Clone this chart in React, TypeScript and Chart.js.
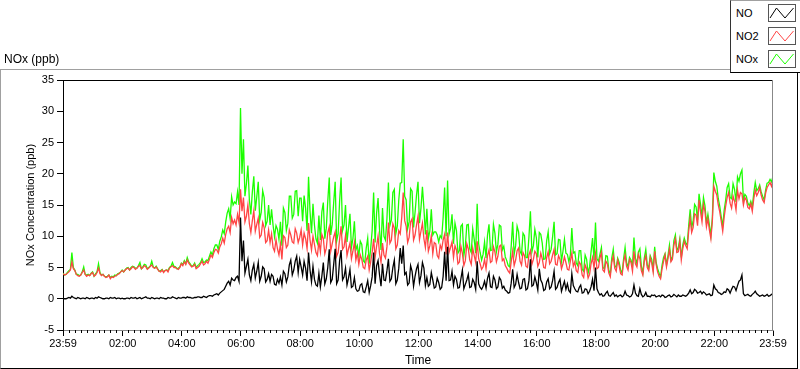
import React, { useEffect, useRef } from 'react';
import { Chart, registerables } from 'chart.js';

Chart.register(...registerables);

// Sampling: one value every 3 minutes, starting at 23:59 (-1 min) of the previous day
const START_MIN = -1;
const STEP_MIN = 3;

const NO: number[] = [
  0.1,0.0, 0.0,0.1, 0.2,0.1, 0.4,0.2, 0.1,0.0, 0.2,0.1, 0.0,0.1, 0.1,0.0, 0.2,0.1, 0.0,0.1,
  0.1,0.0, 0.2,0.1, 0.3,0.2, 0.1,0.0, 0.0,0.1, 0.1,0.0, 0.2,0.1, 0.1,0.2, 0.0,0.1, 0.1,0.0,
  0.1,0.0, 0.0,0.1, 0.1,0.0, 0.2,0.1, 0.1,0.2, 0.0,0.1, 0.2,0.0, 0.1,0.2, 0.3,0.1, 0.1,0.0,
  0.2,0.1, 0.0,0.1, 0.1,0.0, 0.2,0.1, 0.1,0.0, 0.0,0.2, 0.1,0.1, 0.3,0.2, 0.1,0.0, 0.2,0.1,
  0.1,0.2, 0.2,0.1, 0.3,0.2, 0.2,0.1, 0.1,0.2, 0.2,0.3, 0.3,0.2, 0.2,0.4, 0.3,0.2, 0.4,0.5,
  0.5,0.4, 0.6,0.7, 0.8,0.6, 0.9,1.1, 1.3,1.5, 2.0,2.5, 2.8,2.2, 3.3,3.0, 2.9,3.4, 3.6,2.8,
  13.0,6.0, 9.3,4.1, 5.2,6.3, 3.8,2.9, 4.6,5.5, 3.3,4.4, 5.8,2.8, 3.6,5.1, 4.8,2.7, 3.1,4.0,
  2.8,3.9, 3.6,2.3, 2.2,3.1, 2.5,3.5, 2.2,4.4, 4.0,2.7, 3.5,5.4, 6.2,3.8, 4.6,6.0, 6.8,4.2,
  6.3,5.1, 3.8,6.0, 4.9,2.9, 7.4,4.6, 2.7,5.2, 3.1,2.2, 2.0,4.1, 1.9,3.6, 5.8,2.4, 3.2,5.0,
  7.9,2.6, 3.1,5.5, 8.0,2.4, 3.0,6.1, 7.8,3.0, 3.5,4.9, 2.2,3.3, 4.7,1.8, 2.0,3.4, 1.6,1.2,
  1.3,2.2, 2.4,1.1, 1.0,1.9, 2.9,1.0, 2.1,3.5, 7.4,2.4, 5.3,6.1, 3.8,2.0, 5.6,3.0, 2.9,4.5,
  6.4,2.8, 3.2,5.0, 6.2,2.4, 3.0,4.9, 8.1,5.6, 8.5,3.9, 4.2,2.2, 2.5,5.3, 4.4,2.0, 3.6,4.8,
  5.5,2.6, 3.7,5.8, 4.9,2.1, 3.4,2.0, 2.3,4.2, 3.0,1.7, 1.9,3.3, 2.6,1.5, 1.8,3.6, 7.5,2.9,
  8.3,2.9, 3.0,4.4, 2.2,3.6, 3.1,1.7, 1.8,3.2, 4.6,1.6, 2.3,3.0, 3.9,1.8, 1.9,3.1, 2.6,1.5,
  6.0,2.4, 1.8,1.5, 2.0,2.8, 1.7,3.3, 4.1,1.9, 1.8,3.6, 3.0,1.6, 1.9,3.4, 3.0,1.7, 2.0,1.4,
  1.2,0.9, 1.0,2.5, 4.7,1.8, 2.3,3.9, 2.6,1.6, 1.7,3.1, 3.2,1.4, 1.6,2.9, 6.3,2.0, 2.2,3.5,
  2.6,1.4, 4.8,3.0, 2.5,1.3, 1.5,2.7, 3.2,1.6, 1.9,2.9, 4.4,1.5, 1.8,2.6, 3.1,1.2, 2.0,2.8,
  1.5,2.4, 1.3,1.0, 4.0,2.1, 1.6,1.2, 1.1,1.8, 2.2,0.9, 1.0,1.6, 1.5,0.8, 1.2,1.9, 3.1,1.3,
  5.0,1.6, 1.0,0.6, 0.8,0.4, 0.5,0.9, 1.2,0.5, 0.4,0.7, 1.0,0.4, 0.6,0.3, 0.5,0.6, 0.3,0.5,
  1.2,0.6, 0.5,0.3, 0.4,0.8, 2.2,0.9, 0.5,0.4, 1.6,0.7, 0.3,0.5, 1.0,0.4, 0.4,0.3, 0.6,0.5,
  0.6,0.3, 0.4,0.5, 0.3,0.6, 0.5,0.2, 0.3,0.5, 0.6,0.3, 0.4,0.7, 0.5,0.3, 0.6,0.4, 0.4,0.6,
  0.5,0.4, 0.6,0.9, 1.4,0.8, 1.0,1.5, 1.3,0.9, 1.0,1.2, 0.8,1.1, 0.9,0.6, 0.7,0.8, 0.5,0.6,
  2.2,1.6, 1.4,1.0, 0.9,0.7, 0.8,1.1, 1.0,1.6, 1.4,0.9, 1.5,2.0, 1.9,1.3, 2.1,2.8, 3.0,3.8,
  0.8,0.5, 0.6,0.7, 0.5,0.4, 0.7,0.9, 1.2,0.8, 0.6,0.4, 0.5,0.6, 0.4,0.5, 0.7,0.4, 0.5,0.7, 0.6,
];

const NO2: number[] = [
  4.0,3.8, 3.9,4.1, 4.3,4.6, 5.9,4.8, 4.5,3.9, 3.7,3.6, 3.8,4.2, 4.6,3.9, 3.6,3.8, 3.7,4.0,
  4.2,3.6, 3.8,4.2, 4.9,4.0, 3.7,3.9, 3.6,3.4, 3.5,3.8, 3.2,3.5, 3.4,3.6, 3.7,3.9, 4.0,4.3,
  4.5,4.3, 4.6,4.8, 4.9,4.6, 4.8,5.1, 5.0,4.7, 4.9,5.2, 5.3,4.8, 5.0,5.3, 5.1,4.7, 4.9,5.2,
  5.4,5.0, 4.9,5.1, 4.7,4.4, 4.3,4.6, 4.2,4.5, 4.6,4.3, 4.9,5.1, 5.3,5.0, 5.0,4.8, 4.7,5.0,
  5.6,5.3, 5.9,5.5, 6.2,5.7, 5.4,5.1, 5.2,5.5, 4.8,5.0, 5.2,5.6, 6.0,5.4, 5.6,6.0, 5.7,6.3,
  7.0,6.6, 7.4,7.9, 7.8,7.3, 8.3,8.8, 9.7,8.9, 10.3,11.2, 11.6,10.6, 13.0,12.0, 12.6,11.8, 13.5,12.2,
  17.5,14.0, 16.2,12.3, 13.2,15.0, 12.0,10.6, 12.5,14.1, 10.8,11.9, 12.9,9.8, 10.2,12.2, 11.4,9.0, 9.3,11.0,
  9.0,10.4, 8.2,7.6, 9.5,8.0, 7.0,8.8, 6.3,10.1, 9.8,8.2, 8.6,11.0, 10.2,9.1, 8.9,11.2, 10.5,9.0,
  9.8,11.0, 8.6,10.5, 9.6,8.0, 12.1,9.4, 7.8,10.0, 8.7,7.4, 6.9,9.2, 7.5,10.3, 9.6,7.2, 8.1,10.6,
  11.5,7.6, 8.8,9.9, 10.7,6.8, 7.4,9.5, 11.6,7.9, 8.3,10.1, 6.9,8.0, 8.9,6.4, 7.6,9.0, 6.2,7.3,
  5.5,7.0, 6.3,5.0, 4.8,6.2, 6.8,4.6, 5.9,7.4, 9.6,6.6, 8.4,10.0, 7.2,5.8, 8.9,7.0, 6.5,8.3,
  12.2,8.9, 9.4,12.0, 11.3,8.0, 8.6,10.9, 10.4,13.0, 17.0,12.5, 11.6,9.0, 9.8,12.3, 12.8,9.4, 10.2,11.8,
  13.2,9.5, 10.8,12.1, 9.6,8.2, 11.0,7.6, 8.5,10.1, 7.2,9.0, 8.8,6.9, 6.5,8.6, 7.9,9.4, 10.3,7.1,
  10.6,7.4, 8.2,9.1, 6.6,8.5, 7.8,5.6, 5.9,8.4, 7.3,5.3, 6.1,8.8, 8.0,6.2, 5.5,8.1, 6.9,5.8,
  9.2,6.4, 5.6,4.7, 5.1,6.3, 4.8,6.9, 7.8,5.8, 6.0,8.3, 7.5,5.9, 6.8,8.4, 8.6,6.1, 6.4,5.3,
  4.9,4.4, 4.1,5.9, 7.6,5.3, 6.2,7.7, 8.1,6.0, 5.4,7.4, 6.9,5.2, 5.0,7.0, 7.7,5.5, 6.3,7.6,
  7.2,5.2, 5.8,7.3, 6.4,5.0, 4.9,6.6, 7.5,5.6, 6.0,7.0, 7.9,5.5, 5.4,6.9, 6.3,4.8, 5.6,6.7,
  5.8,4.7, 4.6,6.0, 7.3,5.2, 5.9,4.5, 4.2,5.9, 5.5,3.8, 3.4,5.4, 4.8,3.3, 3.9,5.6, 6.6,4.9,
  7.2,4.8, 5.0,6.5, 7.4,4.6, 4.3,6.0, 5.6,4.1, 3.5,5.8, 6.9,4.9, 4.4,6.2, 5.3,4.0, 3.8,5.9,
  7.0,5.2, 4.6,6.3, 5.8,4.4, 7.6,5.6, 5.1,7.1, 6.4,4.5, 3.8,6.0, 6.9,5.0, 4.5,6.6, 5.7,4.2,
  7.6,5.5, 4.3,3.6, 3.2,4.8, 6.0,7.0, 5.1,6.4, 7.9,5.9, 6.3,8.6, 9.6,7.4, 7.5,9.2, 6.2,8.0,
  9.2,8.5, 8.0,10.8, 12.9,10.6, 11.4,13.6, 13.4,11.7, 15.8,13.9, 12.3,15.1, 14.0,11.5, 12.8,11.0, 9.6,12.4,
  18.0,17.2, 16.6,15.0, 13.9,12.4, 10.8,13.1, 14.8,16.2, 17.0,15.3, 14.5,16.4, 15.6,14.2, 17.4,16.0, 17.0,16.8,
  15.0,16.2, 15.8,14.6, 14.4,15.2, 14.0,16.0, 17.4,16.5, 17.0,17.8, 16.6,15.8, 15.4,16.9, 17.8,18.2, 18.6,18.0, 19.0,
];

const NOX: number[] = [
  4.1,3.8, 3.9,4.2, 4.5,4.7, 7.4,5.0, 4.6,3.9, 3.9,3.7, 3.8,4.3, 5.1,3.9, 3.8,3.9, 3.7,4.1,
  4.3,3.6, 4.0,4.3, 5.6,4.2, 3.8,3.9, 3.6,3.5, 3.6,3.8, 3.4,3.6, 3.5,3.8, 3.7,4.0, 4.1,4.3,
  4.6,4.3, 4.6,4.9, 5.0,4.6, 5.0,5.2, 5.1,4.9, 4.9,5.3, 5.8,4.8, 5.1,5.5, 5.4,4.8, 5.0,5.2,
  6.0,5.1, 4.9,5.2, 4.8,4.4, 4.5,4.7, 4.3,4.5, 4.6,4.5, 5.0,5.2, 5.8,5.2, 5.1,4.8, 4.9,5.1,
  5.7,5.5, 6.1,5.6, 6.6,5.9, 5.6,5.2, 5.3,5.7, 5.0,5.3, 5.5,5.8, 6.4,5.8, 5.9,6.2, 6.1,6.8,
  7.5,7.0, 8.0,8.6, 8.6,7.9, 9.2,9.9, 11.0,10.4, 12.3,13.7, 14.4,12.8, 16.3,15.0, 15.5,15.2, 17.1,15.0,
  30.5,20.0, 25.5,16.4, 18.4,21.3, 15.8,13.5, 17.1,19.6, 14.1,16.3, 18.7,12.6, 13.8,17.3, 16.2,11.7, 12.4,15.0,
  11.8,14.3, 11.8,9.9, 11.7,11.1, 9.5,12.3, 8.5,14.5, 13.8,10.9, 12.1,16.4, 16.4,12.9, 13.5,17.2, 17.3,13.2,
  16.1,16.1, 12.4,16.5, 14.5,10.9, 19.5,14.0, 10.5,15.2, 11.8,9.6, 8.9,13.3, 9.4,13.9, 15.4,9.6, 11.3,15.6,
  19.4,10.2, 11.9,15.4, 18.7,9.2, 10.4,15.6, 19.4,10.9, 11.8,15.0, 9.1,11.3, 13.6,8.2, 9.6,12.4, 7.8,8.5,
  6.8,9.2, 8.7,6.1, 5.8,8.1, 9.7,5.6, 8.0,10.9, 17.0,9.0, 13.7,16.1, 11.0,7.8, 14.5,10.0, 9.4,12.8,
  18.6,11.7, 12.6,17.0, 17.5,10.4, 11.6,15.8, 18.5,18.6, 25.5,16.4, 15.8,11.2, 12.3,17.6, 17.2,11.4, 13.8,16.6,
  18.7,12.1, 14.5,17.9, 14.5,10.3, 14.4,9.6, 10.8,14.3, 10.2,10.7, 10.7,10.2, 9.1,10.1, 9.7,13.0, 17.8,10.0,
  18.9,10.3, 11.2,13.5, 8.8,12.1, 10.9,7.3, 7.7,11.6, 11.9,6.9, 8.4,11.8, 11.9,8.0, 7.4,11.2, 9.5,7.3,
  15.2,8.8, 7.4,6.2, 7.1,9.1, 6.5,10.2, 11.9,7.7, 7.8,11.9, 10.5,7.5, 8.7,11.8, 11.6,7.8, 8.4,6.7,
  6.1,5.3, 5.1,8.4, 12.3,7.1, 8.5,11.6, 10.7,7.6, 7.1,10.5, 10.1,6.6, 6.6,9.9, 14.0,7.5, 8.5,11.1,
  9.8,6.6, 10.6,10.3, 8.9,6.3, 6.4,9.3, 10.7,7.2, 7.9,9.9, 12.3,7.0, 7.2,9.5, 9.4,6.0, 7.6,9.5,
  7.3,7.1, 5.9,7.0, 11.3,7.3, 7.5,5.7, 5.3,7.7, 7.7,4.7, 4.4,7.0, 6.3,4.1, 5.1,7.5, 9.7,6.2,
  12.2,6.4, 6.0,7.1, 8.2,5.0, 4.8,6.9, 6.8,4.6, 3.9,6.5, 7.9,5.3, 5.0,6.5, 5.8,4.6, 4.1,6.4,
  8.2,5.8, 5.1,6.6, 6.2,5.2, 9.8,6.5, 5.6,7.5, 8.0,5.2, 4.1,6.5, 7.9,5.4, 4.9,6.9, 6.3,4.7,
  8.3,5.8, 4.8,4.1, 3.5,5.4, 6.6,7.2, 5.4,6.9, 8.6,6.2, 6.7,9.3, 10.2,7.7, 8.2,9.6, 6.6,8.6,
  9.7,8.9, 8.6,11.7, 14.3,11.4, 12.4,15.1, 14.7,12.6, 16.8,15.1, 13.1,16.2, 14.9,12.1, 13.5,11.8, 10.1,13.0,
  20.2,18.8, 18.0,16.0, 14.8,13.1, 11.6,14.2, 15.8,17.8, 18.4,16.2, 16.0,18.4, 17.5,15.5, 19.5,18.8, 20.0,20.6,
  15.8,16.7, 16.4,15.3, 14.9,15.6, 14.7,16.9, 18.6,17.3, 17.6,18.2, 17.1,16.4, 15.8,17.4, 18.5,18.6, 19.1,18.7, 19.6,
];

const X_TICKS = [-1, 120, 240, 360, 480, 600, 720, 840, 960, 1080, 1200, 1320, 1439];
const X_TICK_LABELS = ['23:59', '02:00', '04:00', '06:00', '08:00', '10:00', '12:00', '14:00', '16:00', '18:00', '20:00', '22:00', '23:59'];
const X_MINOR_STEP = 12;
const Y_MIN = -5;
const Y_MAX = 35;
const Y_STEP = 5;

const SERIES_NAMES = ['NO', 'NO2', 'NOx'];
const SERIES_COLORS = ['#000000', '#ff4545', '#1cff00'];
const SERIES_VALUES = [NO, NO2, NOX];

const FONT = '"Liberation Sans", Arial, sans-serif';

const framePlugin = {
  id: 'framePlugin',
  afterDraw(chart: any) {
    const { ctx, chartArea, scales } = chart;
    const x = scales.x;
    ctx.save();
    ctx.lineWidth = 1;
    ctx.strokeStyle = '#000';
    ctx.beginPath();
    for (let m = X_TICKS[0] + X_MINOR_STEP; m < X_TICKS[X_TICKS.length - 1]; m += X_MINOR_STEP) {
      if (X_TICKS.some((t) => Math.abs(t - m) < 3)) continue;
      const px = Math.round(x.getPixelForValue(m)) + 0.5;
      ctx.moveTo(px, chartArea.bottom);
      ctx.lineTo(px, chartArea.bottom + 3);
    }
    ctx.stroke();
    ctx.beginPath();
    ctx.strokeStyle = '#000';
    ctx.moveTo(chartArea.left, chartArea.top + 0.5);
    ctx.lineTo(chartArea.right, chartArea.top + 0.5);
    ctx.stroke();
    ctx.beginPath();
    ctx.strokeStyle = '#888';
    ctx.moveTo(chartArea.right - 0.5, chartArea.top);
    ctx.lineTo(chartArea.right - 0.5, chartArea.bottom);
    ctx.stroke();
    ctx.restore();
  },
};

function Swatch({ color }: { color: string }) {
  return (
    <svg width={28} height={18} style={{ display: 'block' }}>
      <rect x={0.5} y={0.5} width={27} height={17} fill="#fff" stroke="#555" />
      <polyline points="2,14 8.5,4 17,14 25.5,4" fill="none" stroke={color} strokeWidth={1} />
    </svg>
  );
}

export default function App() {
  const canvasRef = useRef<HTMLCanvasElement | null>(null);

  useEffect(() => {
    const canvas = canvasRef.current;
    if (!canvas) return;
    const datasets = SERIES_VALUES.map((vals, k) => ({
      label: SERIES_NAMES[k],
      data: vals.map((v, i) => ({ x: START_MIN + i * STEP_MIN, y: v })),
      borderColor: SERIES_COLORS[k],
      backgroundColor: SERIES_COLORS[k],
      borderWidth: 1.3,
      pointRadius: 0,
      tension: 0,
      fill: false,
    }));
    const chart = new Chart(canvas, {
      type: 'line',
      data: { datasets },
      plugins: [framePlugin],
      options: {
        animation: false,
        responsive: false,
        maintainAspectRatio: false,
        layout: { padding: { left: 0, top: 80, right: 27, bottom: 0 } },
        plugins: { legend: { display: false }, tooltip: { enabled: false } },
        scales: {
          x: {
            type: 'linear',
            min: X_TICKS[0],
            max: X_TICKS[X_TICKS.length - 1],
            afterFit: (s: any) => { s.height = 39; },
            afterBuildTicks: (s: any) => { s.ticks = X_TICKS.map((v) => ({ value: v })); },
            ticks: {
              autoSkip: false,
              maxRotation: 0,
              color: '#000',
              padding: 1,
              font: { family: FONT, size: 11 },
              callback: (v: any) => {
                const idx = X_TICKS.indexOf(Number(v));
                return idx >= 0 ? X_TICK_LABELS[idx] : '';
              },
            },
            grid: { drawOnChartArea: false, tickLength: 6, color: '#000' },
            border: { display: true, color: '#888' },
            title: {
              display: true,
              text: 'Time',
              color: '#000',
              font: { family: FONT, size: 12 },
              padding: { top: 0, bottom: 1 },
            },
          },
          y: {
            min: Y_MIN,
            max: Y_MAX,
            afterFit: (s: any) => { s.width = 63; },
            ticks: { stepSize: Y_STEP, color: '#000', padding: 3, font: { family: FONT, size: 11 } },
            grid: { drawOnChartArea: false, tickLength: 6, color: '#000' },
            border: { display: true, color: '#000' },
            title: {
              display: true,
              text: 'NOx Concentration (ppb)',
              color: '#000',
              font: { family: FONT, size: 11 },
              padding: { top: 24, bottom: 0 },
            },
          },
        },
      },
    } as any);
    return () => chart.destroy();
  }, []);

  return (
    <div style={{ position: 'absolute', left: 0, top: 0, width: 800, height: 369, background: '#fff', overflow: 'hidden', fontFamily: FONT }}>
      <canvas ref={canvasRef} width={800} height={369} style={{ position: 'absolute', left: 0, top: 0, width: 800, height: 369 }} />
      <div style={{ position: 'absolute', left: 0, top: 69, width: 798, height: 300, boxSizing: 'border-box', borderLeft: '1px solid #a0a0a0', borderTop: '1px solid #a0a0a0', borderRight: '1px solid #000', borderBottom: '1px solid #000' }} />
      <div style={{ position: 'absolute', left: 4, top: 52, fontSize: 12, lineHeight: '14px', color: '#000', whiteSpace: 'nowrap' }}>NOx (ppb)</div>
      <div style={{ position: 'absolute', left: 730, top: 0, width: 70, height: 73, boxSizing: 'border-box', background: '#fff', borderLeft: '1px solid #333', borderBottom: '1px solid #000', borderTop: '1px solid #a0a0a0' }}>
        {SERIES_NAMES.map((name, k) => (
          <div key={name} style={{ position: 'absolute', left: 0, top: 3 + k * 23, width: 69, height: 18 }}>
            <div style={{ position: 'absolute', left: 5, top: 2, fontSize: 11, lineHeight: '14px', color: '#000' }}>{name}</div>
            <div style={{ position: 'absolute', left: 37, top: 0 }}>
              <Swatch color={SERIES_COLORS[k]} />
            </div>
          </div>
        ))}
      </div>
    </div>
  );
}
